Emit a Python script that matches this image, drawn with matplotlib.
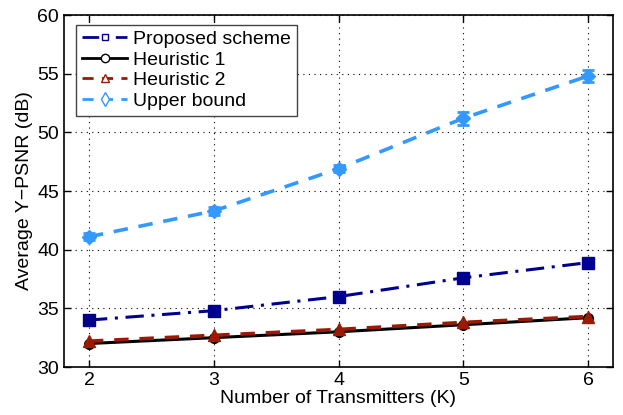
import numpy as np
import matplotlib
matplotlib.use('Agg')
import matplotlib.pyplot as plt
from matplotlib.lines import Line2D

plt.rcParams['font.family'] = ['Liberation Sans', 'DejaVu Sans']

# data
K = [2, 3, 4, 5, 6]
proposed = [34.0, 34.8, 36.0, 37.6, 38.9]
heuristic1 = [32.0, 32.5, 33.0, 33.6, 34.2]
heuristic2 = [32.2, 32.7, 33.2, 33.8, 34.3]
upper = [41.1, 43.3, 46.9, 51.2, 54.8]
upper_err = [0.3, 0.35, 0.3, 0.55, 0.55]
labels = ['Proposed scheme', 'Heuristic 1', 'Heuristic 2', 'Upper bound']

c_prop = '#00008f'
c_h1 = 'black'
c_h2 = '#9b1a05'
c_ub = '#3399ff'

fig = plt.figure(figsize=(6.23, 4.15), dpi=100)
ax = fig.add_axes([64 / 623, 48 / 415, 549 / 623, 352 / 415])

ax.plot(K, proposed, color=c_prop, ls=(0, (6, 2.5, 1, 2.5)), lw=2.2,
        marker='s', ms=8, mfc=c_prop, mec=c_prop, zorder=3)
ax.plot(K, heuristic1, color=c_h1, ls='-', lw=2.2,
        marker='o', ms=7, mfc=c_h1, mec=c_h1, zorder=3)
ax.plot(K, heuristic2, color=c_h2, ls=(0, (4, 3)), lw=2.6,
        marker='^', ms=9, mfc=c_h2, mec=c_h2, zorder=4)
ax.errorbar(K, upper, yerr=upper_err, color=c_ub, ls=(0, (4, 3)), lw=2.6,
            marker='D', ms=7, mfc=c_ub, mec=c_ub, capsize=4, capthick=2,
            elinewidth=2, zorder=3)

ax.set_xlim(1.8, 6.2)
ax.set_ylim(30, 60)
ax.set_xticks(K)
ax.set_yticks(np.arange(30, 61, 5))
ax.grid(True, ls=(0, (1, 4)), color='black', lw=0.8)
ax.tick_params(direction='in', labelsize=14, top=True, right=True,
               length=5, width=1)
for s in ax.spines.values():
    s.set_linewidth(1.2)
ax.set_xlabel('Number of Transmitters (K)', fontsize=14, labelpad=1)
ax.set_ylabel('Average Y\u2212PSNR (dB)', fontsize=14, labelpad=3)

handles = [
    Line2D([], [], color=c_prop, ls=(0, (6, 2.5, 1, 2.5)), lw=2, marker='s',
           ms=5, mfc='white', mec=c_prop),
    Line2D([], [], color=c_h1, ls='-', lw=2, marker='o', ms=6, mfc='white',
           mec=c_h1),
    Line2D([], [], color=c_h2, ls=(0, (4, 3)), lw=2, marker='^', ms=6,
           mfc='white', mec=c_h2),
    Line2D([], [], color=c_ub, ls=(0, (4, 3)), lw=2, marker='d', ms=7,
           mfc='white', mec=c_ub),
]
leg = ax.legend(handles, labels, loc='upper left', fontsize=14,
                bbox_to_anchor=(0.005, 1.0), handlelength=2.3,
                handletextpad=0.3, borderpad=0.3, labelspacing=0.15,
                fancybox=False, framealpha=1, edgecolor='#444444')
leg.get_frame().set_linewidth(1.0)

fig.savefig('out.png', dpi=100)
